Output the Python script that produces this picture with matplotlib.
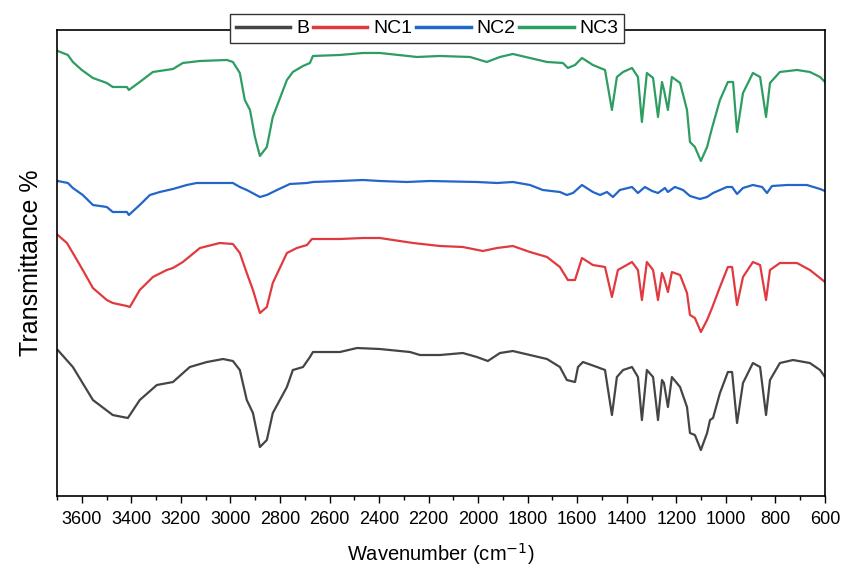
import matplotlib
matplotlib.use("Agg")
import matplotlib.pyplot as plt
from matplotlib import font_manager
from matplotlib.ticker import MultipleLocator

wn_b = [3697, 3636, 3555, 3475, 3414, 3366, 3297, 3232, 3164, 3095, 3030, 2990, 2962, 2934,
        2909, 2881, 2853, 2829, 2772, 2748, 2707, 2679, 2667, 2558, 2489, 2397, 2275, 2235,
        2154, 2062, 2005, 1961, 1912, 1860, 1791, 1722, 1670, 1642, 1609, 1597, 1577, 1520,
        1488, 1460, 1440, 1415, 1379, 1355, 1339, 1319, 1294, 1274, 1258, 1250, 1234, 1218,
        1185, 1157, 1145, 1125, 1101, 1076, 1064, 1052, 1024, 992, 975, 955, 931, 891, 862,
        838, 822, 782, 729, 661, 620, 600]
t_b = [146, 129, 96, 81, 78, 96, 111, 114, 129, 134, 137, 135, 126, 96,
       83, 49, 56, 83, 109, 126, 129, 139, 144, 144, 148, 147, 144, 141,
       141, 143, 139, 135, 143, 145, 141, 137, 129, 116, 114, 129, 134, 129,
       126, 81, 119, 126, 129, 119, 76, 126, 119, 76, 116, 113, 89, 119,
       109, 89, 63, 61, 46, 63, 76, 78, 103, 124, 124, 73, 113, 133, 129,
       81, 116, 133, 136, 133, 126, 119]

wn_nc1 = [3697, 3660, 3636, 3596, 3555, 3499, 3475, 3418, 3406, 3366, 3313, 3257, 3232, 3192,
          3123, 3043, 2990, 2962, 2934, 2909, 2881, 2853, 2829, 2772, 2732, 2691, 2671, 2558,
          2465, 2397, 2263, 2154, 2062, 1981, 1924, 1860, 1791, 1722, 1670, 1638, 1609, 1581,
          1537, 1488, 1460, 1436, 1379, 1355, 1339, 1319, 1294, 1274, 1258, 1250, 1234, 1218,
          1185, 1157, 1145, 1125, 1101, 1076, 1056, 1024, 992, 975, 955, 931, 891, 862, 838,
          822, 782, 713, 661, 620, 600]
t_nc1 = [261, 253, 243, 226, 208, 196, 193, 190, 189, 206, 219, 226, 228, 234,
         248, 253, 252, 243, 223, 206, 183, 189, 213, 243, 248, 251, 257, 257,
         258, 258, 253, 250, 249, 245, 248, 250, 244, 239, 229, 216, 216, 238,
         231, 229, 199, 226, 234, 226, 196, 234, 226, 196, 223, 218, 204, 224,
         221, 203, 181, 178, 164, 176, 188, 209, 229, 229, 191, 219, 234, 231, 196,
         226, 233, 233, 226, 218, 214]

wn_nc2 = [3697, 3656, 3636, 3596, 3555, 3499, 3475, 3418, 3410, 3366, 3325, 3285, 3232, 3176,
          3136, 2990, 2962, 2934, 2881, 2853, 2812, 2760, 2691, 2667, 2558, 2465, 2397, 2288,
          2195, 2005, 1924, 1860, 1791, 1739, 1670, 1642, 1617, 1581, 1537, 1508, 1480, 1456,
          1428, 1379, 1355, 1327, 1298, 1274, 1246, 1234, 1206, 1173, 1145, 1105, 1076, 1052,
          996, 975, 955, 931, 891, 854, 834, 814, 753, 673, 620, 600]
t_nc2 = [315, 313, 308, 301, 291, 289, 284, 284, 281, 291, 301, 304, 307, 311,
         313, 313, 309, 306, 299, 301, 306, 312, 313, 314, 315, 316, 315, 314,
         315, 314, 313, 314, 311, 306, 304, 301, 303, 311, 304, 301, 304, 299,
         306, 309, 303, 309, 305, 303, 308, 304, 309, 306, 300, 297, 299, 303,
         309, 309, 302, 308, 311, 309, 303, 310, 311, 311, 307, 305]

wn_nc3 = [3697, 3656, 3636, 3600, 3555, 3499, 3475, 3418, 3410, 3366, 3313, 3232, 3192, 3123,
          3014, 2990, 2962, 2942, 2921, 2901, 2881, 2853, 2829, 2772, 2748, 2707, 2679, 2667,
          2558, 2465, 2397, 2247, 2154, 2033, 1965, 1912, 1860, 1791, 1722, 1658, 1638, 1609,
          1581, 1537, 1488, 1460, 1440, 1415, 1379, 1355, 1339, 1319, 1294, 1274, 1258, 1250,
          1234, 1218, 1185, 1157, 1145, 1125, 1101, 1076, 1056, 1024, 992, 971, 955, 931, 891,
          862, 838, 822, 782, 713, 661, 620, 600]
t_nc3 = [445, 441, 434, 426, 418, 413, 409, 409, 406, 414, 424, 427, 433, 435,
         436, 434, 423, 396, 386, 359, 340, 349, 379, 416, 424, 430, 433, 440,
         441, 443, 443, 439, 440, 439, 434, 439, 442, 438, 434, 433, 428, 431,
         438, 431, 426, 386, 419, 424, 428, 419, 374, 423, 418, 379, 414, 406,
         386, 419, 413, 386, 354, 349, 335, 349, 368, 396, 414, 414, 364, 403, 423,
         419, 379, 413, 424, 426, 424, 419, 414]

labels = ["B", "NC1", "NC2", "NC3"]
colors = ["#454545", "#e03a3e", "#2166c8", "#2e9d62"]
xticks = list(range(3600, 599, -200))

# pick a narrow Arial-like face if there is one
names = {f.name for f in font_manager.fontManager.ttflist}
fam = "Liberation Sans Narrow" if "Liberation Sans Narrow" in names else "Liberation Sans"
plt.rcParams['font.family'] = [fam, 'DejaVu Sans']

fig = plt.figure(figsize=(8.42, 5.71), dpi=100)
ax = fig.add_axes([0.0677, 0.1313, 0.9121, 0.8162])

for wn, t, lab, c in zip([wn_b, wn_nc1, wn_nc2, wn_nc3], [t_b, t_nc1, t_nc2, t_nc3], labels, colors):
    ax.plot(wn, t, color=c, lw=1.6, label=lab)

ax.set_xlim(3700, 600)
ax.set_ylim(0, 466)
ax.set_xticks(xticks)
ax.xaxis.set_minor_locator(MultipleLocator(100))
ax.tick_params(axis='x', which='major', direction='out', length=5, width=1, labelsize=13, pad=6)
ax.tick_params(axis='x', which='minor', direction='out', length=3, width=1)
ax.set_yticks([])
for s in ax.spines.values():
    s.set_linewidth(1.2)

ax.set_xlabel("Wavenumber (cm$^{-1}$)", fontsize=14.5, labelpad=9)
ax.set_ylabel("Transmittance %", fontsize=18, labelpad=10)

leg = ax.legend(loc='center', bbox_to_anchor=(0.482, 1.003), ncol=4, fontsize=14,
                frameon=True, fancybox=False, framealpha=1, edgecolor='#333333',
                handlelength=2.8, handletextpad=0.3, columnspacing=0.2,
                borderpad=0.3, borderaxespad=0)
leg.get_frame().set_linewidth(1.0)
for line in leg.get_lines():
    line.set_linewidth(2.5)

fig.savefig("out.png", dpi=100)
